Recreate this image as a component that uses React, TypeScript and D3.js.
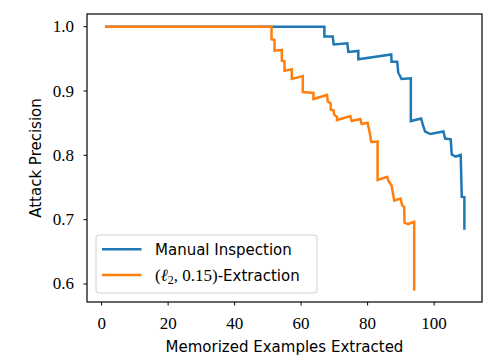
import React from "react";
import * as d3 from "d3";

// vertices (rank n, precision)
const manualN = [1, 67.0, 67.0, 69.5, 69.8, 73.9, 74.2, 77.2, 77.2, 87.1, 87.2, 88.9, 89.2, 90.2, 93.0, 93.0, 96.1, 96.7, 97.3, 98.9, 102.8, 103.3, 105.0, 105.3, 106.5, 108.0, 108.3, 109.1, 109.1];
const manualPrecision = [1.0, 1.0, 0.9848, 0.9848, 0.9723, 0.9742, 0.9607, 0.9622, 0.9493, 0.9568, 0.9456, 0.9456, 0.9288, 0.9187, 0.9198, 0.8533, 0.8572, 0.8456, 0.837, 0.8331, 0.837, 0.8261, 0.8249, 0.8012, 0.7981, 0.8005, 0.7356, 0.7347, 0.6843];

const extractionN = [1, 51.1, 51.1, 52.0, 52.0, 54.2, 54.2, 55.0, 55.0, 57.2, 57.2, 60.5, 60.5, 63.7, 63.7, 67.8, 68.0, 68.9, 68.9, 69.8, 69.9, 70.8, 70.8, 74.8, 75.2, 77.8, 78.2, 80.0, 80.6, 81.1, 83.0, 83.0, 85.9, 86.3, 87.2, 88.0, 89.9, 90.4, 91.0, 91.1, 92.2, 94.0, 94.0];
const extractionPrecision = [1.0, 1.0, 0.9804, 0.9793, 0.9627, 0.9638, 0.9471, 0.9462, 0.9316, 0.9337, 0.9187, 0.9233, 0.8984, 0.8969, 0.8876, 0.8938, 0.8837, 0.8806, 0.8712, 0.8697, 0.8635, 0.8596, 0.8549, 0.8611, 0.8533, 0.8565, 0.8487, 0.8507, 0.8362, 0.8207, 0.8215, 0.7616, 0.7667, 0.76, 0.753, 0.7297, 0.7328, 0.7219, 0.7196, 0.6955, 0.6932, 0.6967, 0.5894];

const xTicks = [0, 20, 40, 60, 80, 100];
const yTicks = [0.6, 0.7, 0.8, 0.9, 1.0];

const App: React.FC = () => {
  const svgRef = React.useRef<SVGSVGElement | null>(null);

  React.useEffect(() => {
    if (!svgRef.current) return;
    const svg = d3.select(svgRef.current);
    svg.selectAll("*").remove();

    const width = 496;
    const height = 363;
    const left = 87;
    const right = 482;
    const top = 14;
    const bottom = 302;
    const serif = "'Liberation Serif', serif";
    const sans = "'DejaVu Sans', sans-serif";

    svg.attr("width", width).attr("height", height);
    svg.append("rect").attr("width", width).attr("height", height).attr("fill", "white");

    const x = d3.scaleLinear().domain([-4.4, 114.4]).range([left, right]);
    const y = d3.scaleLinear().domain([0.572, 1.0197]).range([bottom, top]);

    const line = d3
      .line<[number, number]>()
      .x((d) => x(d[0]))
      .y((d) => y(d[1]));

    const series = [
      { xs: manualN, ys: manualPrecision, color: "#1f77b4" },
      { xs: extractionN, ys: extractionPrecision, color: "#ff7f0e" },
    ];
    series.forEach((s) => {
      const pts = s.xs.map((v, i) => [v, s.ys[i]] as [number, number]);
      svg
        .append("path")
        .datum(pts)
        .attr("d", line)
        .attr("fill", "none")
        .attr("stroke", s.color)
        .attr("stroke-width", 2.5)
        .attr("stroke-linejoin", "miter");
    });

    // frame
    svg
      .append("rect")
      .attr("x", left)
      .attr("y", top)
      .attr("width", right - left)
      .attr("height", bottom - top)
      .attr("fill", "none")
      .attr("stroke", "black")
      .attr("stroke-width", 1.2);

    // x axis
    const xg = svg.append("g");
    xTicks.forEach((t) => {
      xg.append("line")
        .attr("x1", x(t))
        .attr("x2", x(t))
        .attr("y1", bottom)
        .attr("y2", bottom + 3.5)
        .attr("stroke", "black")
        .attr("stroke-width", 1);
      xg.append("text")
        .attr("x", x(t))
        .attr("y", 329)
        .attr("text-anchor", "middle")
        .attr("font-family", serif)
        .attr("font-size", 17)
        .text(String(t));
    });

    // y axis
    const yg = svg.append("g");
    yTicks.forEach((t) => {
      yg.append("line")
        .attr("x1", left - 3.5)
        .attr("x2", left)
        .attr("y1", y(t))
        .attr("y2", y(t))
        .attr("stroke", "black")
        .attr("stroke-width", 1);
      yg.append("text")
        .attr("x", 74)
        .attr("y", y(t) + 5.5)
        .attr("text-anchor", "end")
        .attr("font-family", serif)
        .attr("font-size", 17)
        .text(t.toFixed(1));
    });

    svg
      .append("text")
      .attr("x", (left + right) / 2)
      .attr("y", 352)
      .attr("text-anchor", "middle")
      .attr("font-family", sans)
      .attr("font-size", 15)
      .text("Memorized Examples Extracted");

    svg
      .append("text")
      .attr("transform", `translate(41, ${(top + bottom) / 2}) rotate(-90)`)
      .attr("text-anchor", "middle")
      .attr("font-family", sans)
      .attr("font-size", 15)
      .text("Attack Precision");

    // legend
    const lg = svg.append("g");
    lg.append("rect")
      .attr("x", 96)
      .attr("y", 235)
      .attr("width", 221)
      .attr("height", 58)
      .attr("rx", 3)
      .attr("fill", "white")
      .attr("fill-opacity", 0.8)
      .attr("stroke", "#d0d0d0")
      .attr("stroke-width", 1);

    [249.3, 275].forEach((ly, i) => {
      lg.append("line")
        .attr("x1", 102)
        .attr("x2", 141.5)
        .attr("y1", ly)
        .attr("y2", ly)
        .attr("stroke", series[i].color)
        .attr("stroke-width", 2.5);
    });

    lg.append("text")
      .attr("x", 155)
      .attr("y", 255)
      .attr("font-family", sans)
      .attr("font-size", 15)
      .text("Manual Inspection");

    const t2 = lg.append("text").attr("x", 155).attr("y", 281).attr("font-size", 15);
    t2.append("tspan").attr("font-family", serif).attr("font-size", 17).text("(");
    t2.append("tspan").attr("font-family", serif).attr("font-size", 17).attr("font-style", "italic").text("ℓ");
    t2.append("tspan").attr("font-family", serif).attr("font-size", 12).attr("dy", 3).text("2");
    t2.append("tspan").attr("font-family", serif).attr("font-size", 17).attr("dy", -3).text(", 0.15)");
    t2.append("tspan").attr("font-family", sans).attr("font-size", 15).text("-Extraction");
  }, []);

  return <svg ref={svgRef} style={{ position: "absolute", left: 0, top: 0 }}></svg>;
};

export default App;
